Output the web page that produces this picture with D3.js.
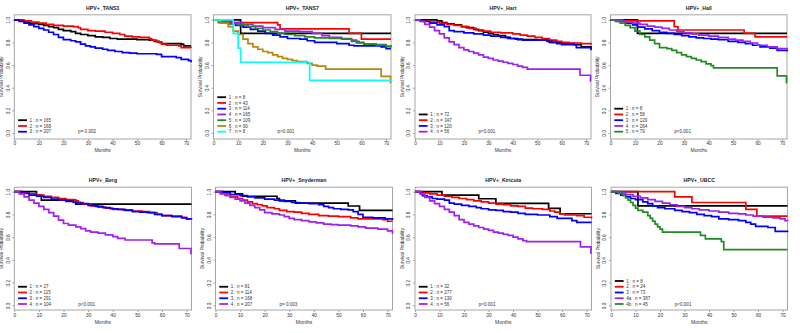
<!DOCTYPE html>
<html>
<head>
<meta charset="utf-8">
<script src="https://cdn.jsdelivr.net/npm/d3@7"></script>
<style>
  body { margin: 0; background: #fff; }
  svg { display: block; font-family: "Liberation Sans", Arial, sans-serif; }
</style>
</head>
<body>
<svg id="chart" width="800" height="333"></svg>
<script>
// Kaplan-Meier survival by cohort, 8 panels (months vs survival probability)
const panelTitles = ['HPV+_TANS3', 'HPV+_TANS7', 'HPV+_Hart', 'HPV+_Hall',
  'HPV+_Berg', 'HPV+_Snyderman', 'HPV+_Kiricuta', 'HPV+_UBCC'];
const pValues = ['p= 0.002', 'p<0.001', 'p<0.001', 'p<0.001',
  'p<0.001', 'p= 0.003', 'p<0.001', 'p<0.001'];
const groupNames = [
  ['1', '2', '3'],
  ['1', '2', '3', '4', '5', '6', '7'],
  ['1', '2', '3', '4'],
  ['1', '2', '3', '4', '5'],
  ['1', '2', '3', '4'],
  ['1', '2', '3', '4'],
  ['1', '2', '3', '4'],
  ['1', '2', '3', '4a', '4b'],
];
const groupCounts = [
  [165, 168, 207],
  [8, 43, 114, 165, 109, 90, 8],
  [72, 347, 120, 56],
  [8, 58, 129, 264, 79],
  [27, 115, 291, 104],
  [81, 114, 168, 207],
  [32, 277, 130, 56],
  [8, 24, 73, 387, 45],
];
const xTicks = [0, 10, 20, 30, 40, 50, 60, 70];
const yTicks = [0, 0.2, 0.4, 0.6, 0.8, 1.0];

// [month, survival] step points per group
const tans3 = [
  [[0,1],[2,0.99],[4,0.98],[6,0.97],[8,0.965],[10,0.96],[12,0.95],[14,0.94],[16,0.93],[18,0.915],[20,0.905],[23,0.895],[25,0.88],[27,0.87],[30,0.86],[33,0.85],[36,0.845],[39,0.835],[42,0.83],[50,0.825],[55,0.82],[57,0.81],[59,0.8],[60,0.79],[68,0.785],[69,0.77],[72,0.77]],
  [[0,1],[4,0.99],[7,0.98],[10,0.97],[13,0.96],[16,0.95],[20,0.945],[24,0.94],[26,0.93],[27,0.915],[30,0.905],[33,0.9],[37,0.89],[40,0.88],[43,0.87],[45,0.855],[48,0.85],[51,0.845],[55,0.835],[56,0.82],[58,0.805],[60,0.785],[62,0.775],[67,0.77],[68,0.755],[72,0.75]],
  [[0,1],[2,0.985],[4,0.97],[6,0.955],[8,0.94],[10,0.925],[12,0.91],[14,0.89],[16,0.87],[18,0.845],[20,0.825],[23,0.815],[25,0.805],[27,0.785],[29,0.77],[31,0.76],[33,0.75],[36,0.74],[38,0.73],[41,0.72],[44,0.71],[47,0.705],[50,0.7],[58,0.695],[60,0.675],[66,0.665],[68,0.65],[71,0.64],[72,0.625]],
];
const tans7 = [
  [[0,1],[11,0.88],[72,0.88]],
  [[0,1],[3,0.975],[26,0.955],[27,0.92],[55,0.88],[60,0.83],[72,0.83]],
  [[0,1],[3,0.98],[6,0.965],[9,0.95],[12,0.935],[15,0.915],[18,0.9],[21,0.88],[24,0.865],[27,0.85],[30,0.835],[35,0.83],[38,0.815],[41,0.8],[50,0.79],[55,0.775],[57,0.77],[68,0.76],[70,0.745],[72,0.745]],
  [[0,1],[4,0.985],[8,0.975],[12,0.96],[16,0.945],[20,0.93],[25,0.915],[29,0.9],[35,0.895],[40,0.88],[44,0.86],[47,0.845],[52,0.835],[56,0.82],[58,0.795],[61,0.785],[66,0.775],[70,0.765],[72,0.76]],
  [[0,1],[2,0.975],[6,0.965],[10,0.955],[14,0.94],[17,0.925],[20,0.91],[23,0.895],[26,0.88],[29,0.87],[33,0.86],[37,0.85],[41,0.84],[47,0.835],[52,0.83],[56,0.81],[59,0.8],[61,0.785],[66,0.78],[70,0.765],[72,0.755]],
  [[0,1],[3,0.97],[6,0.94],[8,0.9],[10,0.87],[12,0.83],[14,0.79],[16,0.76],[18,0.74],[20,0.72],[22,0.71],[24,0.69],[26,0.675],[28,0.66],[30,0.65],[32,0.64],[34,0.63],[38,0.615],[40,0.6],[42,0.59],[45.5,0.565],[68,0.5],[71.8,0.445],[72,0.445]],
  [[0,1],[8,0.88],[10,0.75],[11,0.625],[39,0.465],[72,0.465]],
];
const hart = [
  [[0,1],[9,0.99],[11,0.975],[13,0.965],[16,0.955],[19,0.94],[21,0.93],[24,0.915],[26,0.905],[28,0.89],[30,0.88],[32,0.87],[34,0.86],[37,0.845],[39,0.835],[42,0.825],[50,0.82],[55,0.8],[60,0.79],[65,0.78],[68,0.76],[72,0.745]],
  [[0,1],[3,0.99],[6,0.98],[10,0.97],[13,0.96],[16,0.95],[19,0.94],[22,0.925],[25,0.91],[28,0.9],[31,0.89],[35,0.885],[40,0.875],[43,0.865],[46,0.855],[49,0.845],[52,0.835],[55,0.82],[58,0.81],[60,0.8],[63,0.795],[68,0.79],[72,0.78]],
  [[0,1],[3,0.985],[6,0.97],[9,0.955],[12,0.94],[14,0.905],[16,0.895],[20,0.885],[24,0.875],[28,0.865],[31,0.855],[35,0.845],[38,0.835],[41,0.83],[44,0.82],[54,0.81],[56,0.8],[58,0.79],[60,0.78],[66,0.755],[72,0.73]],
  [[0,1],[2,0.985],[4,0.96],[6,0.935],[8,0.905],[10,0.875],[12,0.84],[14,0.805],[16,0.78],[18,0.755],[20,0.735],[22,0.72],[24,0.705],[26,0.69],[28,0.67],[30,0.66],[32,0.645],[34,0.635],[36,0.625],[38,0.615],[40,0.605],[42,0.59],[44,0.58],[46,0.565],[67.5,0.51],[71.8,0.46],[72,0.46]],
];
const hall = [
  [[0,1],[11,0.88],[72,0.88]],
  [[0,1],[5,0.99],[26,0.94],[27.5,0.91],[54.5,0.88],[59,0.85],[72,0.85]],
  [[0,1],[3,0.985],[6,0.97],[9,0.955],[11,0.935],[14,0.92],[17,0.905],[20,0.89],[23,0.88],[26,0.87],[29,0.86],[32,0.85],[35,0.84],[38,0.835],[41,0.83],[44,0.825],[48,0.81],[52,0.8],[55,0.79],[58,0.775],[61,0.76],[65,0.75],[68,0.73],[72,0.72]],
  [[0,1],[3,0.99],[6,0.98],[9,0.97],[12,0.96],[15,0.945],[18,0.935],[21,0.925],[24,0.91],[27,0.895],[30,0.885],[33,0.875],[36,0.865],[40,0.855],[44,0.845],[48,0.83],[51,0.82],[54,0.81],[57,0.795],[60,0.775],[64,0.76],[68,0.745],[72,0.735]],
  [[0,1],[2,0.985],[4,0.97],[6,0.95],[8,0.93],[10,0.9],[12,0.87],[14,0.85],[16,0.82],[18,0.79],[20,0.755],[23,0.745],[25,0.73],[27,0.71],[29,0.69],[31,0.675],[33,0.66],[35,0.645],[37,0.63],[39,0.61],[41,0.595],[42,0.575],[68,0.505],[71.8,0.445],[72,0.445]],
];
const berg = [
  [[0,1],[9,0.97],[11,0.925],[25,0.89],[72,0.89]],
  [[0,1],[3,0.99],[6,0.98],[9,0.97],[12,0.96],[15,0.95],[18,0.94],[21,0.93],[24,0.92],[26,0.905],[28,0.89],[31,0.875],[34,0.865],[37,0.855],[40,0.845],[44,0.84],[48,0.83],[52,0.825],[55,0.815],[58,0.8],[60,0.79],[64,0.785],[68,0.775],[70,0.76],[72,0.755]],
  [[0,1],[3,0.985],[6,0.97],[9,0.96],[12,0.95],[15,0.935],[18,0.925],[21,0.915],[24,0.905],[27,0.895],[30,0.88],[33,0.87],[36,0.86],[39,0.85],[42,0.845],[45,0.835],[48,0.825],[51,0.82],[54,0.815],[57,0.8],[60,0.79],[64,0.78],[68,0.77],[70,0.76],[72,0.76]],
  [[0,1],[2,0.98],[4,0.955],[6,0.925],[8,0.9],[10,0.87],[12,0.845],[14,0.815],[16,0.785],[18,0.75],[20,0.72],[22,0.705],[25,0.69],[27,0.675],[29,0.655],[31,0.645],[34,0.635],[37,0.62],[40,0.605],[42,0.59],[45,0.575],[56,0.55],[57,0.54],[67,0.5],[71.8,0.455],[72,0.455]],
];
const snyderman = [
  [[0,1],[8,0.98],[11,0.96],[25,0.94],[26,0.92],[32.5,0.9],[54,0.874],[58.6,0.835],[72,0.835]],
  [[0,1],[2,0.985],[4,0.97],[6,0.955],[9,0.94],[11,0.925],[13,0.91],[15,0.895],[17,0.885],[19,0.875],[21,0.86],[24,0.85],[26,0.835],[29,0.825],[32,0.82],[35,0.81],[38,0.8],[42,0.79],[46,0.785],[50,0.78],[55,0.77],[58,0.76],[68,0.755],[70,0.74],[72,0.74]],
  [[0,1],[3,0.99],[6,0.975],[10,0.965],[13,0.955],[16,0.945],[20,0.935],[24,0.925],[28,0.915],[31,0.905],[34,0.9],[38,0.895],[42,0.885],[44,0.87],[46,0.86],[48,0.85],[51,0.845],[54,0.84],[56,0.825],[58,0.8],[60,0.775],[64,0.77],[69,0.76],[72,0.75]],
  [[0,1],[2,0.98],[4,0.965],[6,0.95],[8,0.935],[10,0.92],[12,0.9],[14,0.88],[16,0.86],[18,0.84],[20,0.815],[23,0.805],[26,0.795],[28,0.78],[30,0.765],[32,0.755],[35,0.745],[38,0.735],[41,0.725],[44,0.715],[47,0.71],[50,0.705],[55,0.7],[58,0.69],[61,0.68],[66,0.67],[70,0.655],[72,0.63]],
];
const kiricuta = [
  [[0,1],[11,0.97],[26,0.938],[33,0.897],[54.5,0.853],[59.2,0.806],[72,0.806]],
  [[0,1],[3,0.99],[6,0.98],[9,0.97],[12,0.96],[15,0.95],[18,0.94],[21,0.93],[24,0.92],[27,0.91],[30,0.9],[33,0.89],[36,0.885],[39,0.875],[42,0.87],[45,0.855],[48,0.85],[52,0.845],[55,0.83],[57,0.82],[59,0.805],[61,0.795],[66,0.79],[69,0.775],[72,0.765]],
  [[0,1],[2,0.985],[3,0.965],[5,0.955],[7,0.94],[9,0.935],[12,0.925],[14,0.9],[16,0.89],[19,0.88],[22,0.87],[25,0.86],[27,0.85],[30,0.84],[33,0.835],[36,0.825],[39,0.82],[42,0.81],[45,0.8],[50,0.795],[55,0.78],[58,0.765],[64,0.745],[66,0.73],[72,0.73]],
  [[0,1],[2,0.98],[4,0.95],[6,0.92],[8,0.895],[10,0.87],[12,0.845],[14,0.82],[16,0.79],[18,0.755],[20,0.73],[22,0.715],[24,0.7],[26,0.685],[28,0.67],[30,0.66],[32,0.645],[34,0.635],[36,0.625],[38,0.615],[40,0.6],[42,0.585],[44,0.57],[45.5,0.56],[67.5,0.515],[71.8,0.46],[72,0.46]],
];
const ubcc = [
  [[0,1],[11,0.875],[72,0.875]],
  [[0,1],[26,0.955],[33,0.905],[55,0.845],[59.5,0.785],[72,0.785]],
  [[0,1],[2,0.985],[4,0.97],[6,0.955],[8,0.94],[10,0.93],[13,0.91],[15,0.895],[17,0.875],[19,0.86],[22,0.85],[26,0.835],[29,0.825],[32,0.815],[35,0.8],[38,0.79],[41,0.78],[44,0.76],[48,0.755],[52,0.745],[55,0.73],[57,0.715],[59,0.695],[64,0.685],[67,0.65],[72,0.645]],
  [[0,1],[3,0.99],[6,0.975],[9,0.96],[12,0.945],[15,0.93],[18,0.915],[21,0.9],[24,0.885],[27,0.87],[30,0.86],[33,0.85],[36,0.84],[40,0.83],[44,0.82],[48,0.81],[52,0.805],[55,0.795],[58,0.785],[62,0.775],[66,0.77],[69,0.76],[71,0.745],[72,0.74]],
  [[0,1],[3,0.985],[5,0.965],[6,0.945],[7,0.925],[8,0.905],[9,0.88],[10,0.855],[11,0.835],[13,0.82],[15,0.79],[16,0.765],[17,0.74],[18,0.715],[19,0.69],[20,0.67],[21,0.645],[36.5,0.615],[38.5,0.585],[45,0.56],[46,0.49],[72,0.49]],
];
const panelCurves = [tans3, tans7, hart, hall, berg, snyderman, kiricuta, ubcc];

// group colours, same order in every panel (R palette names)
const palette = ['#000000', '#ff0000', '#0000ff', '#a020f0', '#228b22', '#b8860b', '#00ffff'];

// plot-box geometry
const rows = [
  { top: 14.8, bottom: 139, y0: 133, y1: 19.8, title: 8.3, ticks: 143.5, xlab: 150.5 },
  { top: 187.2, bottom: 310, y0: 305.3, y1: 191.7, title: 180.3, ticks: 315, xlab: 322 },
];
const boxes = [
  [14.3, 191], [213.5, 391], [415, 591], [610.5, 787],
  [14.3, 191.5], [215.5, 392.5], [415, 591.5], [611, 787.5],
];
const xMax = 72;

const svg = d3.select('#chart');

panelCurves.forEach((curves, i) => {
  const row = rows[Math.floor(i / 4)];
  const [left, right] = boxes[i];
  const g = svg.append('g');

  const x = d3.scaleLinear().domain([0, xMax]).range([left, right]);
  const y = d3.scaleLinear().domain([0, 1]).range([row.y0, row.y1]);

  g.append('rect')
    .attr('x', left).attr('y', row.top)
    .attr('width', right - left).attr('height', row.bottom - row.top)
    .attr('fill', 'none').attr('stroke', '#a6a6a6').attr('stroke-width', 1);

  const xAxis = g.append('g')
    .attr('transform', `translate(0,${row.bottom})`)
    .call(d3.axisBottom(x).tickValues(xTicks).tickSize(2).tickPadding(1).tickFormat(d3.format('d')));
  xAxis.select('.domain').remove();
  xAxis.selectAll('line').attr('stroke', '#a6a6a6');
  xAxis.selectAll('text')
    .attr('font-size', 4.8).attr('fill', '#333').attr('y', row.ticks - row.bottom).attr('dy', '0.35em');

  const yAxis = g.append('g')
    .attr('transform', `translate(${left},0)`)
    .call(d3.axisLeft(y).tickValues(yTicks).tickSize(2).tickFormat(d3.format('.1f')));
  yAxis.select('.domain').remove();
  yAxis.selectAll('line').attr('stroke', '#a6a6a6');
  yAxis.selectAll('text')
    .attr('x', null).attr('dy', null)
    .attr('text-anchor', 'middle')
    .attr('transform', 'translate(-4.6,0) rotate(-90)')
    .attr('font-size', 4.8).attr('fill', '#333');

  g.append('text')
    .attr('x', (left + right) / 2).attr('y', row.title)
    .attr('dy', '0.35em').attr('text-anchor', 'middle')
    .attr('font-size', 5.2).attr('font-weight', 'bold').attr('fill', '#222')
    .text(panelTitles[i]);

  g.append('text')
    .attr('x', (left + right) / 2).attr('y', row.xlab)
    .attr('dy', '0.35em').attr('text-anchor', 'middle')
    .attr('font-size', 5).attr('fill', '#333')
    .text('Months');

  g.append('text')
    .attr('transform', `translate(${left - 11.2},${(row.top + row.bottom) / 2}) rotate(-90)`)
    .attr('text-anchor', 'middle')
    .attr('font-size', 4.8).attr('fill', '#333')
    .text('Survival Probability');

  const line = d3.line()
    .x((d) => x(d[0]))
    .y((d) => y(d[1]))
    .curve(d3.curveStepAfter);

  g.append('g')
    .selectAll('path')
    .data(curves)
    .join('path')
    .attr('d', line)
    .attr('fill', 'none')
    .attr('stroke', (d, j) => palette[j])
    .attr('stroke-width', 1.7);

  // legend, bottom-left
  const n = groupNames[i].length;
  const legend = g.append('g');
  groupNames[i].forEach((name, j) => {
    const ly = row.y0 - 1.3 - (n - 1 - j) * 5.75;
    legend.append('line')
      .attr('x1', left + 3.8).attr('x2', left + 12.6)
      .attr('y1', ly).attr('y2', ly)
      .attr('stroke', palette[j]).attr('stroke-width', 1.8);
    legend.append('text')
      .attr('x', left + 15.3).attr('y', ly).attr('dy', '0.35em')
      .attr('font-size', 4.5).attr('fill', '#333')
      .text(`${name} : n = ${groupCounts[i][j]}`);
  });

  g.append('text')
    .attr('x', x(26)).attr('y', row.y0 - 1.3).attr('dy', '0.35em')
    .attr('font-size', 4.6).attr('fill', '#333')
    .text(pValues[i]);
});
</script>
</body>
</html>
